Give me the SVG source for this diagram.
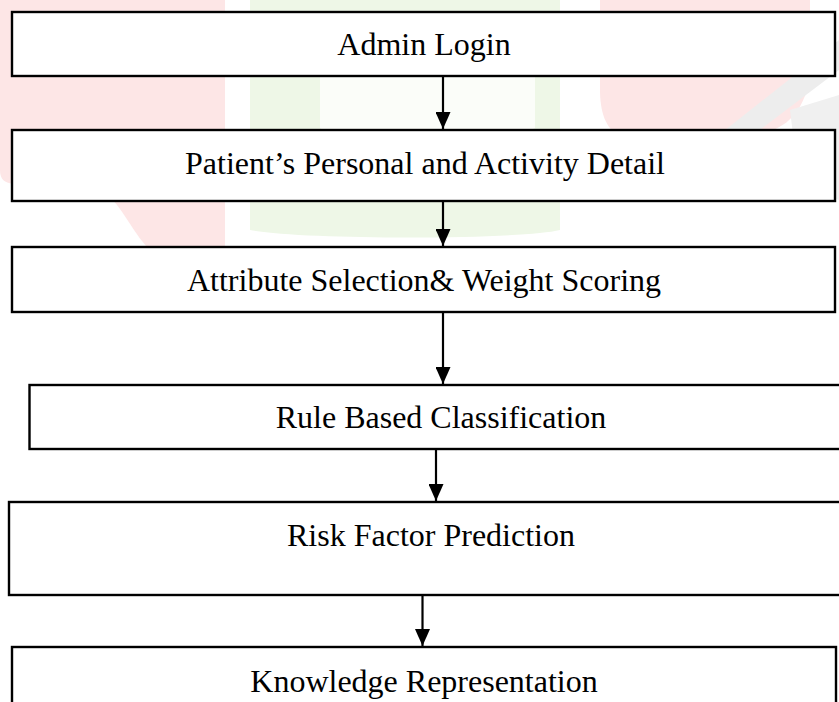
<svg xmlns="http://www.w3.org/2000/svg" width="839" height="702" viewBox="0 0 839 702">
<defs>
<style>
.box{fill:#fff;stroke:#000;stroke-width:2.4}
.lbl{font-family:"Liberation Serif","Times New Roman",serif;font-size:32px;fill:#000;text-anchor:middle}
.conn{stroke:#000;stroke-width:2.2;fill:none}
</style>
<marker id="ah" markerWidth="17" markerHeight="15" refX="17" refY="7.5" orient="auto" markerUnits="userSpaceOnUse" viewBox="0 0 17 15">
<path d="M0,0 L17,7.5 L0,15 Z" fill="#000"/>
</marker>
</defs>
<rect width="839" height="702" fill="#fff"/>
<g id="watermark">
<path d="M0,0 H225 V250 H150 C130,230 120,200 100,190 C80,180 60,200 40,190 C20,180 0,190 0,170 Z" fill="#fde6e6"/>
<path d="M250,0 H560 V230 C520,240 300,240 250,230 Z" fill="#eef7e7"/>
<path d="M320,40 C330,10 520,10 535,40 V128 C520,140 330,140 320,128 Z" fill="#fbfdf9"/>
<path d="M600,0 H810 V80 C800,120 780,135 740,135 H620 C605,130 600,110 600,90 Z" fill="#fde6e6"/>
<path d="M839,40 L700,150 L720,160 L839,70 Z" fill="#ededed"/>
<path d="M790,110 L839,95 L839,200 L800,190 Z" fill="#f0f0f0"/>
</g>
<g id="connectors">
<line class="conn" x1="443" y1="76" x2="443" y2="129" marker-end="url(#ah)"/>
<line class="conn" x1="443" y1="201" x2="443" y2="246" marker-end="url(#ah)"/>
<line class="conn" x1="443" y1="312" x2="443" y2="384" marker-end="url(#ah)"/>
<line class="conn" x1="436" y1="449" x2="436" y2="501" marker-end="url(#ah)"/>
<line class="conn" x1="422.5" y1="595" x2="422.5" y2="646" marker-end="url(#ah)"/>
</g>
<g id="n1"><rect class="box" x="12" y="12" width="823" height="64"/><text class="lbl" x="424" y="55">Admin Login</text></g>
<g id="n2"><rect class="box" x="12" y="130" width="823" height="71"/><text class="lbl" x="425" y="174">Patient’s Personal and Activity Detail</text></g>
<g id="n3"><rect class="box" x="12" y="247" width="823" height="65"/><text class="lbl" x="424" y="291">Attribute Selection&amp; Weight Scoring</text></g>
<g id="n4"><rect class="box" x="29.5" y="385" width="815" height="64"/><text class="lbl" x="441" y="428">Rule Based Classification</text></g>
<g id="n5"><rect class="box" x="9" y="502" width="835" height="93"/><text class="lbl" x="431" y="546">Risk Factor Prediction</text></g>
<g id="n6"><rect class="box" x="12" y="647" width="824" height="70"/><text class="lbl" x="424" y="692">Knowledge Representation</text></g>
</svg>
